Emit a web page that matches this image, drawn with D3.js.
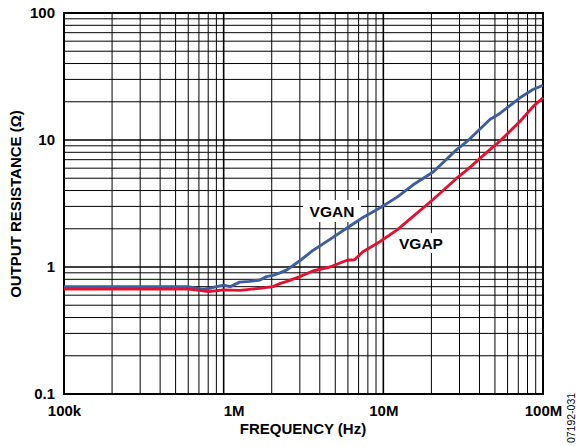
<!DOCTYPE html>
<html>
<head>
<meta charset="utf-8">
<script src="https://cdn.jsdelivr.net/npm/d3@7"></script>
<style>
  body { margin: 0; background: #fff; }
  svg text { font-family: "Liberation Sans", Arial, sans-serif; }
</style>
</head>
<body>
<svg id="chart" width="580" height="446"></svg>
<script>
// frequency points (Hz) and output resistance (ohms)
const vganFreq = [1e5, 2e5, 4e5, 6e5, 6.6e5, 7.4e5, 8.2e5, 9e5, 1e6, 1.1e6, 1.26e6, 1.45e6,
  1.69e6, 1.85e6, 2.04e6, 2.25e6, 2.49e6, 3.0e6, 3.62e6, 4.63e6, 5.92e6, 7.45e6, 9.5e6,
  1.22e7, 1.53e7, 2.05e7, 2.88e7, 3.33e7, 4.65e7, 5.37e7, 7.17e7, 8.65e7, 1e8];
const vganOhm = [0.70, 0.70, 0.70, 0.70, 0.685, 0.67, 0.68, 0.70, 0.72, 0.70, 0.76, 0.77,
  0.79, 0.84, 0.86, 0.90, 0.95, 1.12, 1.35, 1.65, 2.03, 2.45, 2.92,
  3.55, 4.42, 5.6, 8.4, 9.7, 14.5, 16.2, 21.5, 25.0, 27.0];

const vgapFreq = [1e5, 3e5, 6e5, 7e5, 8e5, 9e5, 1e6, 1.26e6, 1.5e6, 1.69e6, 2.04e6, 2.25e6,
  2.49e6, 3.0e6, 3.62e6, 4.63e6, 5.92e6, 6.6e6, 7.45e6, 9.5e6, 1.22e7, 1.53e7, 2.05e7,
  2.88e7, 3.33e7, 4.65e7, 5.37e7, 7.17e7, 8.65e7, 1e8];
const vgapOhm = [0.67, 0.67, 0.67, 0.655, 0.64, 0.65, 0.66, 0.655, 0.67, 0.68, 0.70, 0.74,
  0.77, 0.84, 0.93, 1.0, 1.13, 1.14, 1.32, 1.58, 1.96, 2.49, 3.4,
  5.0, 5.8, 8.4, 9.8, 14.0, 18.3, 21.5];

const xTicks = [1e5, 1e6, 1e7, 1e8];
const xTickLabels = ["100k", "1M", "10M", "100M"];
const yTicks = [0.1, 1, 10, 100];
const yTickLabels = ["0.1", "1", "10", "100"];

const margin = { top: 13, right: 37, bottom: 52, left: 64 };
const svg = d3.select("#chart");
const width = +svg.attr("width") - margin.left - margin.right;
const height = +svg.attr("height") - margin.top - margin.bottom;

const x = d3.scaleLog().domain([1e5, 1e8]).range([0, width]);
const y = d3.scaleLog().domain([0.1, 100]).range([height, 0]);

const g = svg.append("g").attr("transform", `translate(${margin.left},${margin.top})`);

// grid
g.append("g")
  .selectAll("line")
  .data(x.ticks())
  .join("line")
  .attr("x1", d => x(d)).attr("x2", d => x(d))
  .attr("y1", 0).attr("y2", height)
  .attr("stroke", "#000")
  .attr("stroke-width", d => xTicks.includes(d) ? 1.6 : 1);

g.append("g")
  .selectAll("line")
  .data(y.ticks())
  .join("line")
  .attr("y1", d => y(d)).attr("y2", d => y(d))
  .attr("x1", 0).attr("x2", width)
  .attr("stroke", "#000")
  .attr("stroke-width", d => yTicks.includes(d) ? 1.6 : 1);

// curve labels with white boxes
const labels = [
  { text: "VGAN", cx: 332, cy: 211, w: 58, h: 22 },
  { text: "VGAP", cx: 421, cy: 243, w: 58, h: 20 }
];
const lab = g.append("g");
labels.forEach(l => {
  lab.append("rect")
    .attr("x", l.cx - margin.left - l.w / 2)
    .attr("y", l.cy - margin.top - l.h / 2)
    .attr("width", l.w).attr("height", l.h)
    .attr("fill", "#fff");
  lab.append("text")
    .attr("x", l.cx - margin.left)
    .attr("y", l.cy - margin.top)
    .attr("dy", "0.36em")
    .attr("text-anchor", "middle")
    .style("font-size", "15.5px")
    .style("font-weight", "bold")
    .text(l.text);
});

// border
g.append("rect")
  .attr("width", width).attr("height", height)
  .attr("fill", "none")
  .attr("stroke", "#000")
  .attr("stroke-width", 2);

// curves
const line = d3.line()
  .x(d => x(d[0]))
  .y(d => y(d[1]))
  .curve(d3.curveLinear);

g.append("path")
  .datum(d3.zip(vganFreq, vganOhm))
  .attr("fill", "none")
  .attr("stroke", "#3c5e9e")
  .attr("stroke-width", 2.9)
  .attr("stroke-linejoin", "round")
  .attr("d", line);

g.append("path")
  .datum(d3.zip(vgapFreq, vgapOhm))
  .attr("fill", "none")
  .attr("stroke", "#e3102f")
  .attr("stroke-width", 2.9)
  .attr("stroke-linejoin", "round")
  .attr("d", line);

// axes (labels only)
const xAxis = g.append("g")
  .attr("transform", `translate(0,${height})`)
  .call(d3.axisBottom(x).tickValues(xTicks).tickFormat((d, i) => xTickLabels[i]).tickSize(0).tickPadding(11));
const yAxis = g.append("g")
  .call(d3.axisLeft(y).tickValues(yTicks).tickFormat((d, i) => yTickLabels[i]).tickSize(0).tickPadding(9));

[xAxis, yAxis].forEach(a => {
  a.select(".domain").remove();
  a.selectAll("text")
    .style("font-family", "'Liberation Sans', Arial, sans-serif")
    .style("font-size", "15px")
    .style("font-weight", "bold")
    .attr("fill", "#000");
});
// the 1M label sits right of its gridline in the original
xAxis.selectAll("text").filter(d => d === 1e6).attr("dx", 10);

// axis titles
svg.append("text")
  .attr("x", 303).attr("y", 434)
  .attr("text-anchor", "middle")
  .style("font-size", "15px")
  .style("font-weight", "bold")
  .text("FREQUENCY (Hz)");

svg.append("text")
  .attr("transform", "translate(21,204) rotate(-90)")
  .attr("text-anchor", "middle")
  .style("font-size", "15px")
  .style("font-weight", "bold")
  .text("OUTPUT RESISTANCE (Ω)");

svg.append("text")
  .attr("transform", "translate(575,418) rotate(-90)")
  .attr("text-anchor", "middle")
  .style("font-size", "10.5px")
  .text("07192-031");
</script>
</body>
</html>
